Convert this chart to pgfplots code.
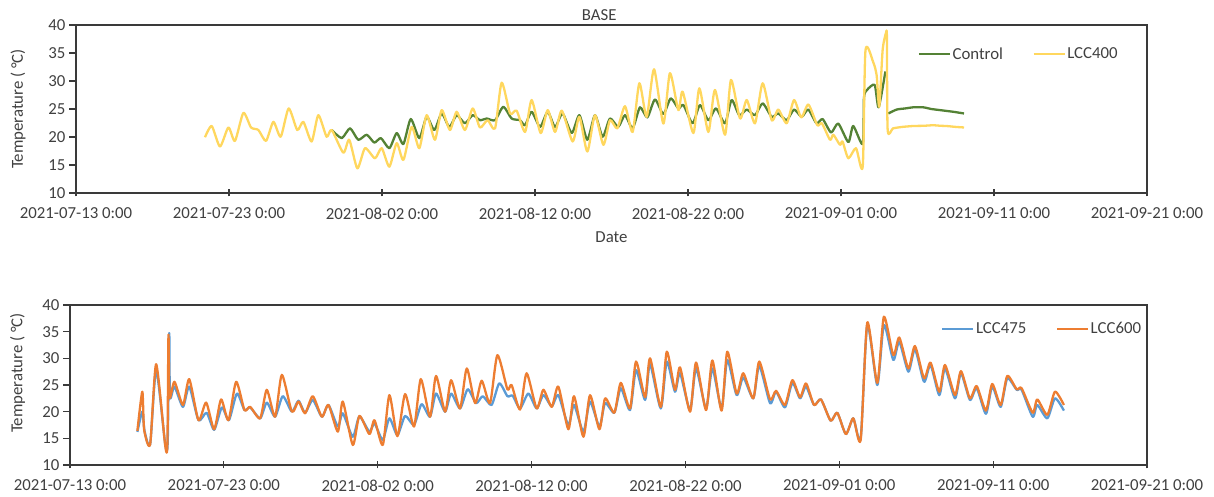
\documentclass[border=0pt]{standalone}
\usepackage{fontspec}
\setmainfont{Carlito}
\usepackage{pgfplots}
\pgfplotsset{compat=1.18}

\definecolor{txt}{HTML}{404040}
\definecolor{axgrey}{HTML}{3A3A3A}
\definecolor{ctrl}{HTML}{548235}
\definecolor{lccyel}{HTML}{FFD75E}
\definecolor{lccblue}{HTML}{5B9BD5}
\definecolor{lccorange}{HTML}{ED7D31}

\newcommand{\chartfont}{\fontsize{16.8}{20}\selectfont}

\pgfplotsset{
  tempax/.style={
    scale only axis,
    xmin=0, xmax=70, ymin=10, ymax=40,
    xtick={0,10,...,70},
    xticklabels={2021-07-13 0:00,2021-07-23 0:00,2021-08-02 0:00,2021-08-12 0:00,
                 2021-08-22 0:00,2021-09-01 0:00,2021-09-11 0:00,2021-09-21 0:00},
    ytick={10,15,...,40},
    xtick pos=bottom, ytick pos=left,
    tick align=outside,
    major tick length=7pt,
    x tick style={yshift=3.5pt},
    axis line style={draw=axgrey, line width=1.2pt},
    tick style={draw=axgrey, line width=1.2pt},
    /pgf/number format/assume math mode=true,
    tick label style={text=txt, font=\chartfont},
    xticklabel style={yshift=-4pt},
    label style={text=txt, font=\chartfont},
    ylabel={Temperature ( °C)},
    legend style={draw=none, fill=none, legend columns=2,
      font=\chartfont, text=txt,
      /tikz/every even column/.append style={column sep=28pt},
      nodes={inner sep=1.5pt}},
    legend image code/.code={\draw[#1] (0pt,0pt) -- (31pt,0pt);},
  },
  series/.style={line width=2.3pt, line join=round, smooth, tension=0.4},
}

\begin{document}
\begin{tikzpicture}
\useasboundingbox (0pt,0pt) rectangle (1214pt,497pt);

% ---------------- upper panel: BASE ----------------
\begin{axis}[tempax,
  at={(76pt,304pt)}, anchor=south west, width=1071pt, height=168pt,
  title={BASE},
  title style={at={(axis description cs:0.4885,1)}, anchor=base, inner sep=0pt,
    yshift=-1.5pt, text=txt, font=\chartfont},
  xlabel={Date},
  xlabel style={at={(axis description cs:0.5,0)}, anchor=base, inner sep=0pt, yshift=-50pt},
  ylabel style={at={(axis description cs:0,0.5)}, anchor=center, yshift=58pt},
  legend style={at={(0.783,0.827)}, anchor=west},
]
\addplot[series, ctrl] coordinates {
(16.71,21.25)(17.37,19.8)(17.91,21.55)(18.45,19.5)(19.0,20.4)(19.5,19.0)
(19.93,19.8)(20.48,18.0)(20.96,20.7)(21.4,18.75)(21.88,23.2)(22.44,19.8)
(22.92,23.6)(23.42,21.25)(23.9,24.2)(24.4,21.8)(24.88,23.9)(25.42,22.45)
(25.93,23.9)(26.4,23.0)(26.84,23.3)(27.39,23.0)(27.93,25.4)(28.47,23.3)
(29.02,23.0)(29.35,22.1)(29.78,24.5)(30.33,21.8)(30.83,24.5)(31.31,21.8)
(31.8,24.2)(32.4,20.7)(32.9,23.9)(33.42,19.5)(33.92,23.9)(34.42,20.05)
(34.9,23.3)(35.44,21.8)(35.88,23.9)(36.38,21.55)(36.86,25.3)(37.34,23.5)
(37.84,26.7)(38.39,24.1)(38.87,26.9)(39.37,25.1)(39.7,25.7)(40.3,22.45)
(40.78,25.7)(41.33,23.0)(41.83,25.1)(42.42,22.45)(42.85,26.6)(43.35,23.9)
(43.84,24.9)(44.38,23.9)(44.88,26.0)(45.47,23.6)(45.9,24.2)(46.45,23.0)
(46.93,24.9)(47.43,23.6)(47.86,24.9)(48.4,22.45)(48.8,23.2)(49.35,20.8)
(49.82,22.4)(50.48,19.1)(50.8,21.96)(51.42,18.75)(51.5,27.0)(51.7,28.4)
(52.2,29.3)(52.46,25.3)(52.9,31.7)
};
\addlegendentry{Control}
\addplot[series, ctrl, forget plot] coordinates {
(53.09,24.2)(53.64,24.9)(54.2,25.1)(54.72,25.3)(55.38,25.3)(55.9,25.0)
(56.47,24.8)(57.34,24.5)(58.04,24.2)
};
\addplot[series, lccyel] coordinates {
(8.43,19.95)(8.87,21.96)(9.41,18.3)(9.96,21.7)(10.39,19.3)(10.94,24.3)
(11.44,21.7)(11.92,21.25)(12.42,19.3)(12.9,22.7)(13.38,20.05)(13.9,25.1)
(14.46,21.25)(14.86,22.7)(15.4,19.2)(15.84,23.9)(16.38,20.05)(16.71,21.25)
(17.47,17.2)(17.86,19.5)(18.39,14.4)(18.89,18.0)(19.54,16.2)(19.98,18.0)
(20.48,14.7)(20.96,18.9)(21.4,15.9)(21.94,21.8)(22.44,18.0)(22.92,23.9)
(23.46,19.5)(23.9,24.8)(24.44,21.25)(24.88,24.5)(25.42,21.25)(25.93,25.1)
(26.4,21.7)(26.9,23.0)(27.39,21.55)(27.82,29.7)(28.37,24.2)(28.8,24.7)
(29.35,20.9)(29.78,26.6)(30.37,20.7)(30.83,24.8)(31.31,20.9)(31.75,24.7)
(32.46,19.2)(32.9,23.6)(33.42,17.4)(33.92,23.9)(34.47,18.6)(34.9,23.0)
(35.38,21.55)(35.88,25.5)(36.38,20.9)(36.82,29.6)(37.3,23.6)(37.78,32.1)
(38.39,22.4)(38.82,31.4)(39.37,24.8)(39.65,28.1)(40.35,20.7)(40.74,28.7)
(41.33,20.9)(41.76,28.4)(42.42,20.4)(42.81,30.2)(43.4,23.3)(43.84,26.6)
(44.38,22.45)(44.88,29.6)(45.47,23.0)(45.9,24.9)(46.45,22.45)(46.93,26.6)
(47.4,23.5)(47.87,25.8)(48.45,22.1)(48.75,22.45)(49.28,19.5)(49.5,20.4)
(49.93,18.6)(50.1,19.2)(50.48,16.2)(50.98,18.0)(51.42,14.7)(51.6,35.5)
(52.1,33.4)(52.33,31.0)(52.5,25.4)(52.72,35.5)(52.94,38.6)(53.0,37.8)
(53.05,21.25)(53.4,21.55)(54.0,21.8)(54.72,21.96)(55.4,22.0)(56.03,22.1)
(56.5,22.0)(56.9,21.96)(57.5,21.8)(58.04,21.7)
};
\addlegendentry{LCC400}
\end{axis}

% ---------------- lower panel ----------------
\begin{axis}[tempax,
  at={(70pt,32pt)}, anchor=south west, width=1077pt, height=160pt,
  ylabel style={at={(axis description cs:0,0.575)}, anchor=center, yshift=52.5pt},
  legend style={at={(0.806,0.85)}, anchor=west},
]
\addplot[series, lccblue] coordinates {
(4.38,16.2)(4.7,20.0)(4.85,16.3)(5.21,13.9)(5.6,27.8)(6.19,13.9)(6.35,14.2)
(6.45,34.7)(6.5,22.7)(6.79,24.7)(7.34,20.9)(7.75,24.7)(8.35,18.4)(8.88,19.8)
(9.37,16.6)(9.87,20.8)(10.33,18.4)(10.85,23.4)(11.34,20.3)(11.71,20.8)
(12.36,18.75)(12.79,21.7)(13.33,19.05)(13.83,22.9)(14.42,20.0)(14.85,22.05)
(15.28,19.8)(15.78,22.2)(16.37,19.05)(16.8,21.25)(17.41,17.2)(17.73,19.7)
(18.38,15.3)(18.81,19.1)(19.46,16.25)(19.79,17.8)(20.33,14.7)(20.76,18.75)
(21.28,15.6)(21.78,19.2)(22.36,17.5)(22.85,21.4)(23.4,19.05)(23.79,23.4)
(24.38,20.0)(24.77,23.4)(25.35,20.6)(25.85,24.2)(26.4,21.6)(26.83,22.9)
(27.4,21.25)(27.9,25.3)(28.43,22.9)(28.77,23.0)(29.25,20.6)(29.79,23.4)
(30.33,20.6)(30.77,23.1)(31.31,21.0)(31.74,23.1)(32.39,17.5)(32.76,21.25)
(33.37,16.25)(33.8,21.9)(34.41,17.2)(34.78,21.6)(35.38,19.8)(35.8,24.4)
(36.4,20.3)(36.79,27.8)(37.38,22.2)(37.7,28.9)(38.4,20.6)(38.79,29.4)
(39.32,23.75)(39.65,27.2)(40.3,20.3)(40.69,28.1)(41.34,20.6)(41.75,28.1)
(42.35,20.6)(42.72,29.7)(43.33,23.1)(43.76,26.4)(44.41,22.5)(44.8,28.6)
(45.5,21.6)(45.89,23.75)(46.47,20.8)(46.95,25.4)(47.45,22.5)(47.84,24.7)
(48.36,21.25)(48.81,22.3)(49.44,18.3)(49.87,19.8)(50.43,15.8)(50.91,18.75)
(51.39,15.0)(51.82,36.3)(52.47,25.0)(52.9,36.25)(53.51,29.7)(53.9,33.1)
(54.49,27.5)(54.92,31.7)(55.51,25.6)(55.93,28.75)(56.5,23.1)(56.87,28.1)
(57.52,22.5)(57.91,27.2)(58.49,22.2)(58.93,24.4)(59.53,19.6)(59.94,24.7)
(60.49,20.9)(60.92,26.25)(61.53,24.1)(61.85,24.1)(62.57,19.05)(62.87,21.25)
(63.52,18.75)(64.02,22.5)(64.6,20.2)
};
\addlegendentry{LCC475}
\addplot[series, lccorange] coordinates {
(4.38,16.4)(4.7,23.75)(4.82,16.6)(5.21,13.9)(5.6,28.9)(6.19,13.6)(6.33,14.0)
(6.4,34.4)(6.47,22.7)(6.79,25.6)(7.34,21.25)(7.75,26.1)(8.35,18.4)(8.85,21.7)
(9.37,16.7)(9.82,22.3)(10.3,18.4)(10.8,25.6)(11.34,20.3)(11.71,20.9)
(12.36,18.75)(12.79,24.1)(13.33,19.05)(13.77,26.9)(14.42,20.0)(14.85,21.9)
(15.28,19.7)(15.78,22.9)(16.37,19.05)(16.8,21.25)(17.41,16.25)(17.73,21.9)
(18.38,13.75)(18.81,19.2)(19.46,15.8)(19.79,18.4)(20.33,13.75)(20.76,23.1)
(21.28,15.4)(21.78,23.3)(22.36,17.2)(22.8,26.1)(23.4,19.05)(23.79,26.7)
(24.38,20.0)(24.77,25.9)(25.35,20.6)(25.79,28.1)(26.33,21.6)(26.76,25.8)
(27.3,21.6)(27.78,30.6)(28.43,24.2)(28.7,25.0)(29.25,20.4)(29.68,27.2)
(30.33,20.6)(30.77,24.1)(31.31,20.9)(31.74,24.7)(32.39,16.7)(32.76,22.9)
(33.37,15.3)(33.8,23.1)(34.41,16.7)(34.78,22.5)(35.38,19.8)(35.8,25.4)
(36.4,20.6)(36.79,29.4)(37.38,22.7)(37.7,30.0)(38.4,20.9)(38.79,31.25)
(39.32,24.1)(39.65,28.3)(40.3,20.0)(40.69,29.2)(41.34,20.3)(41.75,29.6)
(42.35,20.2)(42.72,31.25)(43.33,23.4)(43.76,27.2)(44.41,22.5)(44.8,29.4)
(45.5,22.3)(45.89,23.9)(46.47,21.25)(46.95,25.9)(47.45,22.7)(47.84,25.3)
(48.36,21.25)(48.81,22.3)(49.44,18.3)(49.87,19.8)(50.43,15.8)(50.91,18.75)
(51.39,14.7)(51.82,36.7)(52.47,25.4)(52.9,37.8)(53.51,30.6)(53.9,33.9)
(54.49,28.1)(54.92,32.3)(55.51,26.25)(55.93,29.2)(56.5,23.75)(56.87,28.75)
(57.52,23.1)(57.91,27.6)(58.49,22.5)(58.93,24.8)(59.53,20.2)(59.94,25.2)
(60.49,21.25)(60.92,26.7)(61.53,24.2)(61.85,24.4)(62.57,19.8)(62.87,22.3)
(63.52,19.4)(64.02,23.75)(64.6,21.25)
};
\addlegendentry{LCC600}
\end{axis}
\end{tikzpicture}
\end{document}
